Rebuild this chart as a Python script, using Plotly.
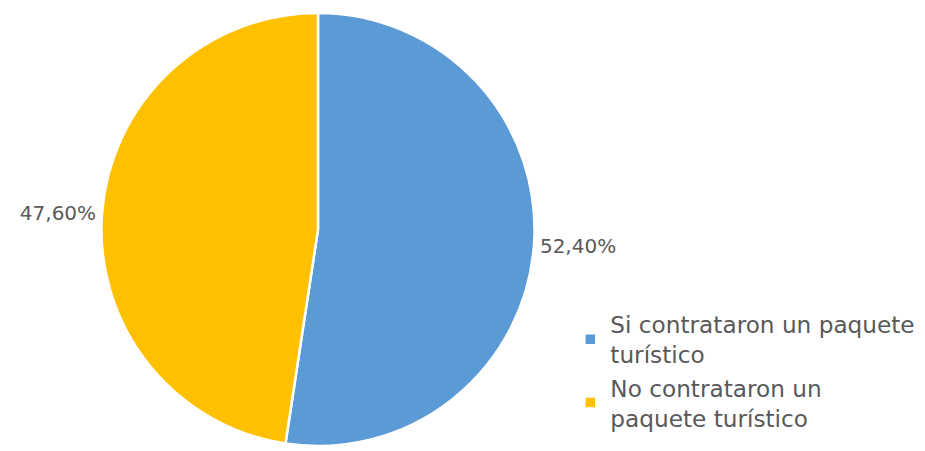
import plotly.graph_objects as go

labels = ["Si contrataron un paquete<br>turístico", "No contrataron un<br>paquete turístico"]
values = [52.4, 47.6]
colors = ["#5B9BD5", "#FFC000"]

W, H = 917, 443  # page body has an 8px margin inside the 925x451 window

fig = go.Figure(go.Pie(
    labels=labels,
    values=values,
    sort=False,
    direction="clockwise",
    rotation=0,
    marker=dict(colors=colors, line=dict(color="white", width=2.5)),
    textposition="outside",
    texttemplate="%{value:.2f}%",
    textfont=dict(size=20, color="#595959", family="DejaVu Sans"),
    domain=dict(x=[(306 - 221) / W, (306 + 221) / W], y=[0.0, 438 / H]),
    showlegend=True,
))

fig.update_layout(
    width=W, height=H,
    margin=dict(l=0, r=0, t=0, b=0),
    paper_bgcolor="white",
    separators=",.",
    font=dict(family="DejaVu Sans", color="#595959", size=20),
    legend=dict(x=560/W, y=1-298/H, xanchor="left", yanchor="top",
                font=dict(size=23.2, color="#595959", family="DejaVu Sans"),
                itemwidth=30),
)

fig.write_html("out.html")
